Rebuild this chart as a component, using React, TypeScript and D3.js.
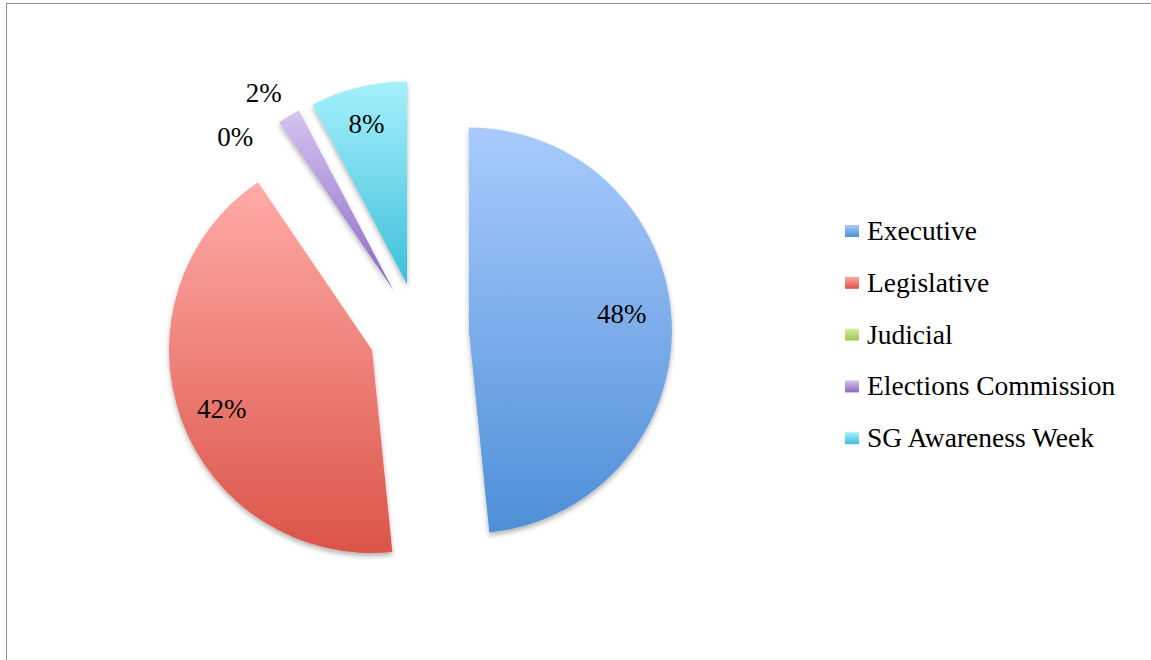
import React from "react";
import * as d3 from "d3";

const categories = ["Executive", "Legislative", "Judicial", "Elections Commission", "SG Awareness Week"];
const values = [48.4, 42.1, 0, 1.8, 7.7];
const valueLabels = ["48%", "42%", "0%", "2%", "8%"];

const gradTop = ["#a9cbfc", "#ffaba7", "#d4ee9f", "#d5c4f0", "#a5f0fc"];
const gradBottom = ["#4e8fd7", "#db5448", "#9bc652", "#8c69c3", "#3ebfda"];

// layout (not data)
const W = 1151;
const H = 660;
const CX = 419;
const CY = 333;
const R = 203;
const EXPLODE = 50;
const labelPlace = [
  { rf: 0.757, a: 84 },
  { rf: 0.795, a: 248.7 },
  { rf: 1.08, a: 314.8 },
  { rf: 1.16, a: 326.6 },
  { rf: 0.816, a: 345.8 },
];
const FONT = "'Liberation Serif', 'Times New Roman', serif";

function polar(r: number, deg: number): [number, number] {
  const t = (deg * Math.PI) / 180;
  return [r * Math.sin(t), -r * Math.cos(t)];
}

export default function App() {
  const pie = d3.pie<number>().sort(null).value((d) => d)(values);
  const arc = d3.arc<d3.PieArcDatum<number>>().innerRadius(0).outerRadius(R);

  return (
    <svg
      width={W}
      height={H}
      style={{ position: "absolute", left: 0, top: 0, background: "#fff" }}
    >
      <defs>
        {categories.map((c, i) => (
          <linearGradient key={c} id={`g${i}`} x1="0" y1="0" x2="0" y2="1">
            <stop offset="0" stopColor={gradTop[i]} />
            <stop offset="1" stopColor={gradBottom[i]} />
          </linearGradient>
        ))}
        <filter id="sh" x="-20%" y="-20%" width="140%" height="140%">
          <feDropShadow dx="0" dy="3" stdDeviation="2.5" floodColor="#000" floodOpacity="0.3" />
        </filter>
      </defs>
      <rect x={6.5} y={3.5} width={W + 20} height={H + 20} fill="#fff" stroke="#8c8c8c" strokeWidth={1} />

      {pie.map((p, i) => {
        if (p.endAngle - p.startAngle <= 0) return null;
        const mid = (((p.startAngle + p.endAngle) / 2) * 180) / Math.PI;
        const [ox, oy] = polar(EXPLODE, mid);
        return (
          <path
            key={categories[i]}
            d={arc(p) || ""}
            transform={`translate(${CX + ox},${CY + oy})`}
            fill={`url(#g${i})`}
            filter="url(#sh)"
          />
        );
      })}

      {pie.map((p, i) => {
        const mid = (((p.startAngle + p.endAngle) / 2) * 180) / Math.PI;
        const [ox, oy] = polar(EXPLODE, mid);
        const [lx, ly] = polar(labelPlace[i].rf * R, labelPlace[i].a);
        return (
          <text
            key={"l" + i}
            x={CX + ox + lx}
            y={CY + oy + ly}
            dy="0.33em"
            textAnchor="middle"
            fontFamily={FONT}
            fontSize={27}
            fill="#000"
          >
            {valueLabels[i]}
          </text>
        );
      })}

      {categories.map((c, i) => (
        <g key={"lg" + c} transform={`translate(845,${225 + i * 51.8})`}>
          <rect x={0} y={0} width={14} height={12} fill={`url(#g${i})`} />
          <text x={22} y={15} fontFamily={FONT} fontSize={27.5} fill="#000">
            {c}
          </text>
        </g>
      ))}
    </svg>
  );
}
